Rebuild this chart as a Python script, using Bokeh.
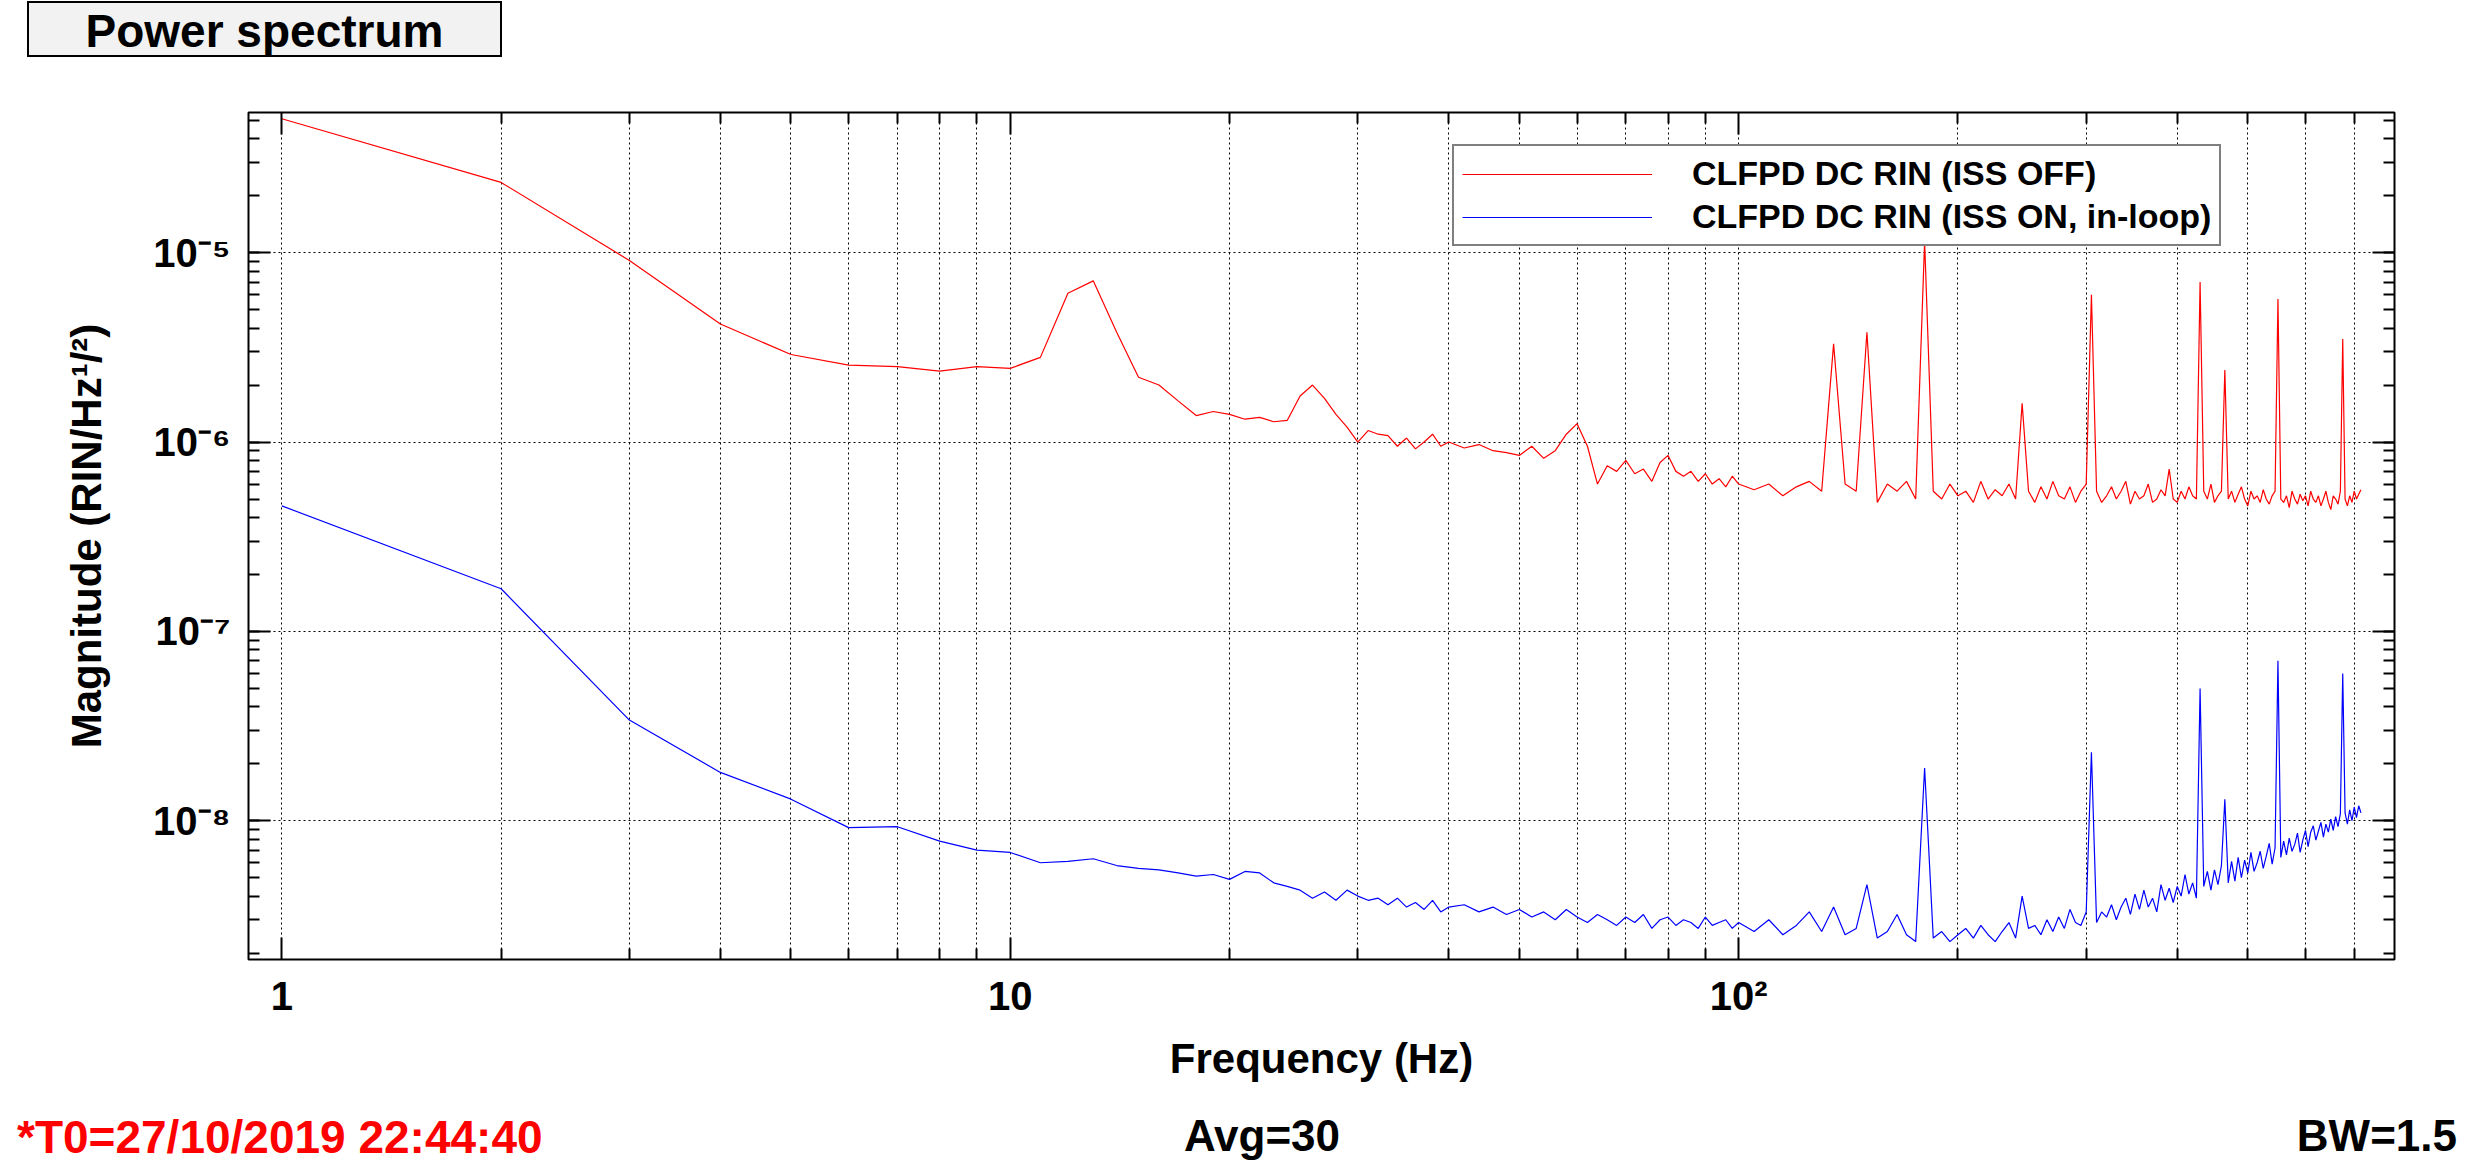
import numpy as np
from bokeh.plotting import figure
from bokeh.layouts import column
from bokeh.models import (FixedTicker, LogTicker, LogAxis, Legend, LegendItem, Div)
from bokeh.embed import file_html
from bokeh.resources import INLINE

# frequency grid (Hz): 1 Hz steps to 40, 2 Hz to 100, 5 Hz to 715
freq = list(range(1, 41)) + list(range(42, 101, 2)) + list(range(105, 716, 5))

# CLFPD DC RIN (ISS OFF), units of 1e-6
red_off = [
    51, 23.5, 9.1, 4.2, 2.9, 2.55, 2.5, 2.37, 2.5, 2.45,
    2.8, 6.1, 7.1, 3.8, 2.2, 2.0, 1.65, 1.38, 1.45, 1.4,
    1.32, 1.35, 1.28, 1.3, 1.75, 2.0, 1.7, 1.4, 1.2, 1.0,
    1.15, 1.1, 1.08, 0.95, 1.05, 0.92, 1.0, 1.1, 0.95, 1.0,
    # 42..100
    0.93, 0.97, 0.9, 0.88, 0.85, 0.95, 0.82, 0.9, 1.1, 1.25,
    0.95, 0.6, 0.75, 0.7, 0.8, 0.68, 0.72, 0.62, 0.78, 0.85,
    0.7, 0.66, 0.7, 0.62, 0.68, 0.6, 0.64, 0.58, 0.66, 0.6,
    # 105..715
    0.56, 0.6, 0.52, 0.58, 0.62, 0.55, 3.3, 0.6, 0.55, 3.8,
    0.48, 0.6, 0.55, 0.62, 0.5, 11.5, 0.55, 0.5, 0.6, 0.52,
    0.55, 0.48, 0.62, 0.5, 0.56, 0.52, 0.6, 0.5, 1.6, 0.55,
    0.48, 0.58, 0.5, 0.62, 0.52, 0.5, 0.58, 0.48, 0.55, 0.6,
    6.0, 0.55, 0.48, 0.52, 0.58, 0.5, 0.55, 0.62, 0.47, 0.55,
    0.5, 0.52, 0.6, 0.48, 0.5, 0.56, 0.52, 0.72, 0.5, 0.48,
    0.55, 0.5, 0.58, 0.52, 0.5, 7.0, 0.55, 0.5, 0.6, 0.48,
    0.52, 0.55, 2.4, 0.5, 0.55, 0.48, 0.53, 0.58, 0.5, 0.46,
    0.55, 0.5, 0.52, 0.48, 0.56, 0.5, 0.47, 0.52, 0.55, 5.7,
    0.5, 0.48, 0.52, 0.45, 0.55, 0.5, 0.47, 0.53, 0.49, 0.52,
    0.46, 0.55, 0.5, 0.48, 0.52, 0.46, 0.5, 0.55, 0.48, 0.44,
    0.52, 0.5, 0.47, 0.55, 3.5, 0.5, 0.46, 0.52, 0.48, 0.55,
    0.5, 0.53, 0.56,
]

# CLFPD DC RIN (ISS ON, in-loop), units of 1e-9
blue_on = [
    460, 168, 34, 18, 13, 9.2, 9.3, 7.8, 7.0, 6.8,
    6.0, 6.1, 6.3, 5.8, 5.6, 5.5, 5.3, 5.1, 5.2, 4.9,
    5.4, 5.3, 4.7, 4.5, 4.3, 3.9, 4.2, 3.8, 4.3, 4.0,
    3.8, 3.9, 3.6, 3.9, 3.5, 3.7, 3.4, 3.8, 3.3, 3.5,
    # 42..100
    3.6, 3.3, 3.5, 3.2, 3.4, 3.1, 3.3, 3.0, 3.4, 3.1,
    2.9, 3.2, 3.0, 2.8, 3.1, 2.9, 3.2, 2.7, 3.0, 3.1,
    2.8, 3.0, 2.9, 2.7, 3.1, 2.8, 2.9, 3.0, 2.7, 2.9,
    # 105..715
    2.6, 3.0, 2.5, 2.8, 3.3, 2.6, 3.5, 2.5, 2.7, 4.6,
    2.4, 2.6, 3.2, 2.5, 2.3, 19.0, 2.4, 2.6, 2.3, 2.5,
    2.7, 2.4, 2.8, 2.5, 2.3, 2.6, 2.9, 2.4, 4.0, 2.7,
    2.8, 2.5, 3.0, 2.6, 3.1, 2.7, 3.4, 2.9, 2.8, 3.3,
    23.0, 2.9, 3.3, 3.1, 3.6, 3.0, 3.5, 3.9, 3.2, 4.1,
    3.4, 4.3, 3.5, 3.9, 3.3, 4.6, 3.8, 4.4, 3.7, 4.5,
    4.0, 5.2, 4.1, 4.7, 3.9, 50.0, 4.5, 5.4, 4.3, 5.5,
    4.6, 5.8, 13.0, 4.7, 6.1, 4.8, 6.4, 5.0, 6.2, 5.3,
    6.8, 5.4, 6.0, 6.9, 5.6, 6.5, 7.6, 5.9, 7.2, 70.0,
    6.4, 7.8, 6.6, 8.1, 6.9, 7.5, 8.6, 6.8, 7.9, 8.9,
    7.3, 8.7, 9.4, 7.9, 8.8, 9.8, 8.2, 9.6, 8.7, 10.2,
    8.9, 10.5, 9.3, 10.9, 60.0, 11.0, 9.6, 11.4, 10.0, 11.8,
    10.4, 12.0, 11.0,
]

red_y = np.array(red_off) * 1e-6
blue_y = np.array(blue_on) * 1e-9

FONT = "Liberation Sans"
W = 2456
FL, FR = 248, 62

TXT = f"font-family:'{FONT}';font-weight:bold;position:absolute;white-space:nowrap;"

top = Div(width=W, height=60, text=(
    f"<div style=\"{TXT}left:22px;top:-4px;width:475px;height:56px;line-height:56px;"
    "font-size:46px;text-align:center;background:#f2f2f2;border:2px solid black;\">"
    "Power spectrum</div>"))

p = figure(width=W, height=1030, x_axis_type="log", y_axis_type="log",
           x_range=(0.9, 795), y_range=(1.85e-9, 5.5e-5),
           output_backend="svg", toolbar_location=None,
           min_border_left=FL, min_border_right=FR,
           min_border_top=42, min_border_bottom=141)
p.outline_line_color = "black"
p.outline_line_width = 2

r1 = p.line(freq, red_y, color="red", line_width=1.2)
r2 = p.line(freq, blue_y, color="blue", line_width=1.2)

xminor = [m * d for d in (1, 10, 100) for m in range(2, 10)]
xt = FixedTicker(ticks=[1, 10, 100], minor_ticks=xminor)
yt = LogTicker(num_minor_ticks=10)

p.xaxis.ticker = xt
p.yaxis.ticker = yt
p.xaxis.major_label_overrides = {1: "1", 10: "10", 100: "10²"}
p.yaxis.major_label_overrides = {1e-8: "10⁻⁸", 1e-7: "10⁻⁷", 1e-6: "10⁻⁶", 1e-5: "10⁻⁵"}
p.xaxis.axis_label = "Frequency (Hz)"
p.yaxis.axis_label = "Magnitude (RIN/Hz¹/²)"

for ax in (p.xaxis[0], p.yaxis[0]):
    ax.axis_line_color = None
    ax.major_tick_in = 22
    ax.major_tick_out = 0
    ax.minor_tick_in = 11
    ax.minor_tick_out = 0
    ax.major_tick_line_width = 2
    ax.minor_tick_line_width = 2
    ax.major_label_text_font = FONT
    ax.major_label_text_font_style = "bold"
    ax.major_label_text_font_size = "40px"
    ax.major_label_text_color = "black"
    ax.axis_label_text_font = FONT
    ax.axis_label_text_font_style = "bold"
    ax.axis_label_text_font_size = "42px"
    ax.axis_label_text_color = "black"
p.xaxis.major_label_standoff = 14
p.yaxis.major_label_standoff = 18
p.xaxis.axis_label_standoff = 14
p.yaxis.axis_label_standoff = 40

# mirrored ticks on top and right, no labels
for side in ("above", "right"):
    ax = LogAxis(ticker=xt if side == "above" else yt)
    ax.axis_line_color = None
    ax.major_tick_in = 22
    ax.major_tick_out = 0
    ax.minor_tick_in = 11
    ax.minor_tick_out = 0
    ax.major_tick_line_width = 2
    ax.minor_tick_line_width = 2
    ax.major_label_text_font_size = "0px"
    ax.major_label_text_color = None
    p.add_layout(ax, side)

p.xgrid.ticker = FixedTicker(ticks=[1, 10, 100] + xminor)
p.xgrid.grid_line_color = "black"
p.xgrid.grid_line_dash = "2 3"
p.ygrid.grid_line_color = "black"
p.ygrid.grid_line_dash = "2 3"

legend = Legend(items=[LegendItem(label="CLFPD DC RIN (ISS OFF)", renderers=[r1]),
                       LegendItem(label="CLFPD DC RIN (ISS ON, in-loop)", renderers=[r2])],
                location=(1204, 713))
legend.label_text_font = FONT
legend.label_text_font_style = "bold"
legend.label_text_font_size = "34px"
legend.label_text_color = "black"
legend.glyph_width = 190
legend.label_standoff = 40
legend.padding = 8
legend.spacing = 4
legend.border_line_color = "black"
legend.border_line_width = 2
legend.background_fill_alpha = 1
p.add_layout(legend, "center")

bottom = Div(width=W, height=60, text=(
    f"<div style=\"{TXT}left:12px;top:0px;font-size:46px;color:red;\">*T0=27/10/2019 22:44:40</div>"
    f"<div style=\"{TXT}left:1257px;top:0px;font-size:44px;transform:translateX(-50%);\">Avg=30</div>"
    f"<div style=\"{TXT}right:4px;top:0px;font-size:44px;\">BW=1.5</div>"))

layout = column(top, p, bottom, spacing=0)
open("out.html", "w").write(file_html(layout, INLINE))
